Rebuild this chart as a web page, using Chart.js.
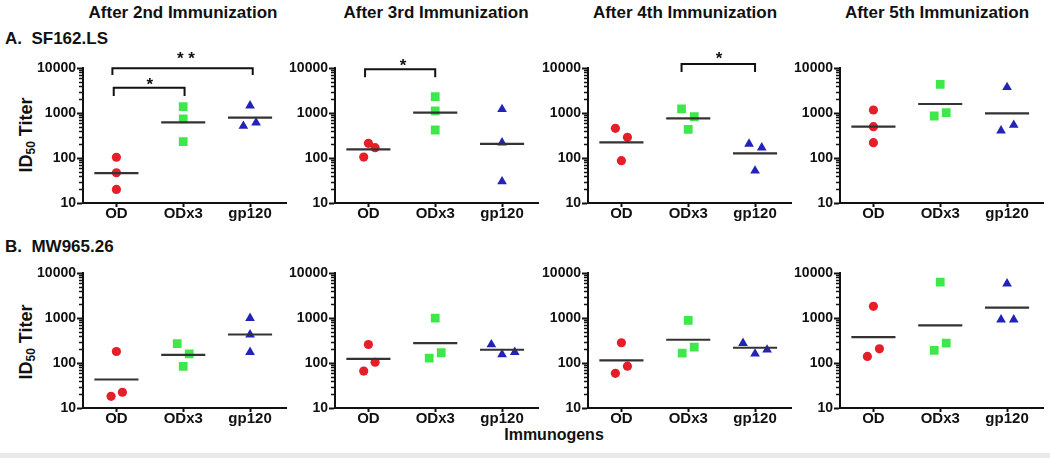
<!DOCTYPE html>
<html><head><meta charset="utf-8">
<script src="https://cdn.jsdelivr.net/npm/chart.js@4.4.1/dist/chart.umd.min.js"></script>
<style>
body{margin:0;background:#fff;width:1050px;height:458px;overflow:hidden;position:relative;font-family:"Liberation Sans",Arial,sans-serif;}
canvas{position:absolute;}
.t{position:absolute;font-weight:bold;color:#111;white-space:nowrap;}
</style></head><body>
<script>
// ---------- labels ----------
const categories = ['OD', 'ODx3', 'gp120'];
const columnTitles = ['After 2nd Immunization', 'After 3rd Immunization', 'After 4th Immunization', 'After 5th Immunization'];
const rowTitles = ['A. SF162.LS', 'B. MW965.26'];
const yTickValues = [10, 100, 1000, 10000];
const yTitleMain = 'ID', yTitleSub = '50', yTitleRest = ' Titer';
const xAxisTitle = 'Immunogens';

// ---------- data: A. SF162.LS ----------
const A2_OD = [104, 47, 20],   A2_ODx3 = [1380, 736, 230], A2_gp120 = [1452, 514, 610];
const A2_dx = [[0, 0, 0], [0, 0, 0], [0, -0.1, 0.09]];
const A2_mean = [46, 621, 787];
const A2_brackets = [[-0.06, 2.04, 6990, 9850], [-0.04, 1.02, 2390, 3650]];
const A2_stars = [[1.04, 19450, '* *'], [0.5, 5410, '*']];

const A3_OD = [105, 212, 170], A3_ODx3 = [2300, 1120, 419], A3_gp120 = [1208, 219, 30];
const A3_dx = [[-0.07, 0, 0.1], [0, 0, 0], [0, 0, 0]];
const A3_mean = [156, 1016, 205];
const A3_brackets = [[-0.05, 1.0, 6210, 9400]];
const A3_stars = [[0.52, 13800, '*']];

const A4_OD = [457, 288, 87],  A4_ODx3 = [1228, 828, 434], A4_gp120 = [205, 170, 52];
const A4_dx = [[-0.09, 0.09, 0], [-0.1, 0.09, 0], [-0.09, 0.1, 0]];
const A4_mean = [223, 762, 127];
const A4_brackets = [[0.9, 2.0, 8150, 12270]];
const A4_stars = [[1.46, 19750, '*']];

const A5_OD = [1166, 497, 219], A5_ODx3 = [4330, 858, 1016], A5_gp120 = [3727, 404, 541];
const A5_dx = [[0, 0, 0], [0, -0.09, 0.09], [0, -0.09, 0.1]];
const A5_mean = [497, 1585, 984];
const A5_brackets = [];
const A5_stars = [];

// ---------- data: B. MW965.26 ----------
const B2_OD = [180, 18.2, 22.4], B2_ODx3 = [268, 160, 84], B2_gp120 = [995, 425, 174];
const B2_dx = [[0, -0.08, 0.09], [-0.09, 0.09, 0], [0, 0, 0]];
const B2_mean = [43, 152, 430];

const B3_OD = [258, 104, 66],  B3_ODx3 = [995, 169, 128], B3_gp120 = [258, 155, 174];
const B3_dx = [[0, 0.1, -0.07], [0, 0.09, -0.09], [-0.16, 0, 0.19]];
const B3_mean = [124, 276, 197];

const B4_OD = [282, 85, 59],   B4_ODx3 = [885, 225, 165], B4_gp120 = [276, 160, 197];
const B4_dx = [[0, 0.09, -0.09], [0, 0.09, -0.09], [-0.18, 0, 0.18]];
const B4_mean = [114, 329, 218];

const B5_OD = [1813, 207, 140], B5_ODx3 = [6300, 276, 190], B5_gp120 = [5800, 916, 916];
const B5_dx = [[0, 0.09, -0.09], [0, 0.09, -0.09], [0, -0.09, 0.1]];
const B5_mean = [376, 684, 1694];

// ---------- layout & style ----------
const axisLeft = [83, 335, 588, 840];
const rowTop = [68, 273];
const plotW = 205, plotH = 135, padL = 60, padT = 30, padR = 5, padB = 30;
const groupColors = ['#e51f2a', '#3ee84a', '#2323b8'];
const groupStyles = ['circle', 'rect', 'triangle'];
const groupRadius = [4.6, 6.2, 5.6];
const meanHalf = 0.33;
const FONT = '"Liberation Sans", Arial, sans-serif';

const panels = [
  {r:0,c:0,vals:[A2_OD,A2_ODx3,A2_gp120],dx:A2_dx,mean:A2_mean,br:A2_brackets,st:A2_stars},
  {r:0,c:1,vals:[A3_OD,A3_ODx3,A3_gp120],dx:A3_dx,mean:A3_mean,br:A3_brackets,st:A3_stars},
  {r:0,c:2,vals:[A4_OD,A4_ODx3,A4_gp120],dx:A4_dx,mean:A4_mean,br:A4_brackets,st:A4_stars},
  {r:0,c:3,vals:[A5_OD,A5_ODx3,A5_gp120],dx:A5_dx,mean:A5_mean,br:A5_brackets,st:A5_stars},
  {r:1,c:0,vals:[B2_OD,B2_ODx3,B2_gp120],dx:B2_dx,mean:B2_mean,br:[],st:[]},
  {r:1,c:1,vals:[B3_OD,B3_ODx3,B3_gp120],dx:B3_dx,mean:B3_mean,br:[],st:[]},
  {r:1,c:2,vals:[B4_OD,B4_ODx3,B4_gp120],dx:B4_dx,mean:B4_mean,br:[],st:[]},
  {r:1,c:3,vals:[B5_OD,B5_ODx3,B5_gp120],dx:B5_dx,mean:B5_mean,br:[],st:[]},
];

function addText(html, css) {
  const d = document.createElement('div');
  d.className = 't';
  d.innerHTML = html;
  Object.assign(d.style, css);
  document.body.appendChild(d);
}

const titleCenters = [183, 436, 685, 937];
columnTitles.forEach((t, i) => addText(t, {left: titleCenters[i] + 'px', top: '13px', fontSize: '17px', transform: 'translate(-50%,-50%)'}));
rowTitles.forEach((t, i) => addText(t.replace(' ', '&nbsp;&nbsp;'), {left: '5px', top: (i === 0 ? 39 : 247) + 'px', fontSize: '17px', transform: 'translateY(-50%)'}));
[135, 342].forEach(y => addText(yTitleMain + '<sub style="font-size:12px;vertical-align:-3px">' + yTitleSub + '</sub>' + yTitleRest,
  {left: '27px', top: y + 'px', fontSize: '18px', transform: 'translate(-50%,-50%) rotate(-90deg)'}));
addText(xAxisTitle, {left: '554px', top: '435px', fontSize: '16px', transform: 'translate(-50%,-50%)'});
const band = document.createElement('div');
Object.assign(band.style, {position: 'absolute', left: 0, top: '453px', width: '1050px', height: '5px', background: '#e9e9e9'});
document.body.appendChild(band);

const extrasPlugin = {
  id: 'extras',
  afterDatasetsDraw(chart, args, opts) {
    const ctx = chart.ctx, xs = chart.scales.x, ys = chart.scales.y;
    ctx.save();
    // minor log ticks
    ctx.strokeStyle = '#111';
    ctx.lineWidth = 1.5;
    const x0 = chart.chartArea.left;
    for (let d = 10; d < 10000; d *= 10) {
      for (let k = 2; k <= 9; k++) {
        const y = Math.round(ys.getPixelForValue(k * d)) + 0.5;
        ctx.beginPath(); ctx.moveTo(x0 - 4, y); ctx.lineTo(x0, y); ctx.stroke();
      }
    }
    // significance stars
    ctx.fillStyle = '#111';
    ctx.font = 'bold 17px ' + FONT;
    ctx.textAlign = 'center';
    ctx.textBaseline = 'alphabetic';
    (opts.stars || []).forEach(s => {
      ctx.fillText(s[2], xs.getPixelForValue(s[0]), ys.getPixelForValue(s[1]) + 9.5);
    });
    ctx.restore();
  }
};

panels.forEach(p => {
  const cv = document.createElement('canvas');
  const W = padL + plotW + padR, H = padT + plotH + padB;
  cv.width = W; cv.height = H;
  cv.style.left = (axisLeft[p.c] - padL) + 'px';
  cv.style.top = (rowTop[p.r] - padT) + 'px';
  cv.style.width = W + 'px'; cv.style.height = H + 'px';
  document.body.appendChild(cv);

  const datasets = [];
  p.br.forEach(b => datasets.push({
    data: [{x: b[0], y: b[2]}, {x: b[0], y: b[3]}, {x: b[1], y: b[3]}, {x: b[1], y: b[2]}],
    showLine: true, borderColor: '#111', borderWidth: 2, pointRadius: 0, clip: false, fill: false, tension: 0
  }));
  p.mean.forEach((m, g) => datasets.push({
    data: [{x: g - meanHalf, y: m}, {x: g + meanHalf, y: m}],
    showLine: true, borderColor: '#333', borderWidth: 2.2, pointRadius: 0, fill: false
  }));
  p.vals.forEach((vals, g) => datasets.push({
    data: vals.map((v, i) => ({x: g + p.dx[g][i], y: v})),
    pointStyle: groupStyles[g], pointRadius: groupRadius[g], pointHoverRadius: groupRadius[g],
    backgroundColor: groupColors[g], borderColor: groupColors[g], borderWidth: 0, showLine: false
  }));

  new Chart(cv, {
    type: 'scatter',
    data: {datasets},
    options: {
      responsive: false, animation: false, devicePixelRatio: 1,
      layout: {padding: {left: 0, top: padT, right: padR, bottom: 0}},
      plugins: {legend: {display: false}, tooltip: {enabled: false}, extras: {stars: p.st}},
      scales: {
        x: {
          type: 'linear', min: -0.5, max: 2.55,
          afterBuildTicks: s => { s.ticks = categories.map((c, i) => ({value: i})); },
          afterFit: s => { s.height = padB; },
          ticks: {callback: v => categories[v], font: {family: FONT, size: 15, weight: 'bold'}, color: '#111',
                  padding: -2, maxRotation: 0, minRotation: 0, autoSkip: false},
          grid: {drawOnChartArea: false, drawTicks: true, tickLength: 4, tickWidth: 2, tickColor: '#111'},
          border: {display: true, color: '#111', width: 2}
        },
        y: {
          type: 'logarithmic', min: 10, max: 10000,
          afterBuildTicks: s => { s.ticks = yTickValues.map(v => ({value: v, major: true})); },
          afterFit: s => { s.width = padL; },
          ticks: {callback: v => String(v), font: {family: FONT, size: 14, weight: 'bold'}, color: '#111',
                  padding: 1, autoSkip: false},
          grid: {drawOnChartArea: false, drawTicks: true, tickLength: 6, tickWidth: 2, tickColor: '#111'},
          border: {display: true, color: '#111', width: 2}
        }
      }
    },
    plugins: [extrasPlugin]
  });
});
</script>
</body></html>
